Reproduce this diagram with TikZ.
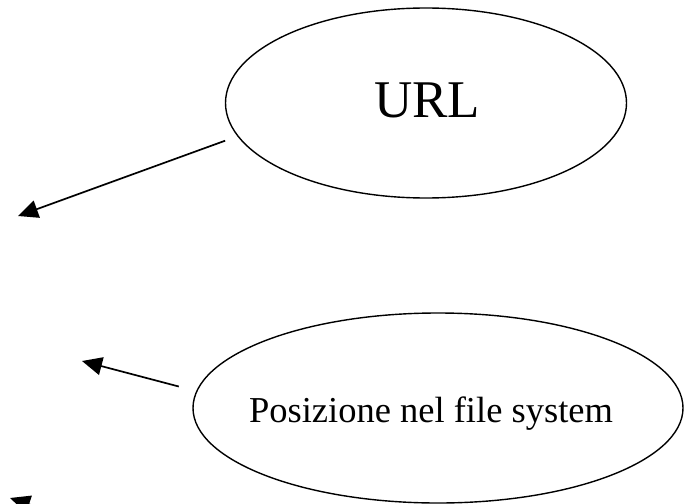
\documentclass[tikz,border=0pt]{standalone}
\usepackage{fontspec}
\setmainfont{Liberation Serif}
\usetikzlibrary{arrows.meta,shapes.geometric}

\begin{document}
\begin{tikzpicture}[x=1pt,y=-1pt,>={Triangle[length=20pt,width=18pt]},
                    line width=1.4pt]
      \tikzstyle{place}=[draw,ellipse,inner sep=0pt]
      \tikzstyle{link}=[->,line width=1.7pt]

      \useasboundingbox (0,0) rectangle (684,503);

      \node[place,minimum width=401pt,minimum height=190pt] (url) at (426,103) {};
      \node[font=\fontsize{53}{60}\selectfont] (urltext) at (427,100) {URL};

      \node[place,minimum width=490pt,minimum height=190pt] (pos) at (438,408) {};
      \node[font=\fontsize{36.5}{42}\selectfont] (postext) at (431,414)
            {Posizione nel file system};

      \coordinate (urlend)   at (18,216);
      \coordinate (posend)   at (82,361);
      \coordinate (lowstart) at (106,530);
      \coordinate (lowend)   at (10,498);

      \path (url.190)  edge [link,shorten <=13pt] (urlend)
            (pos.176)  edge [link,shorten <=18pt] (posend)
            (lowstart) edge [link]                (lowend);

    \end{tikzpicture}
\end{document}
